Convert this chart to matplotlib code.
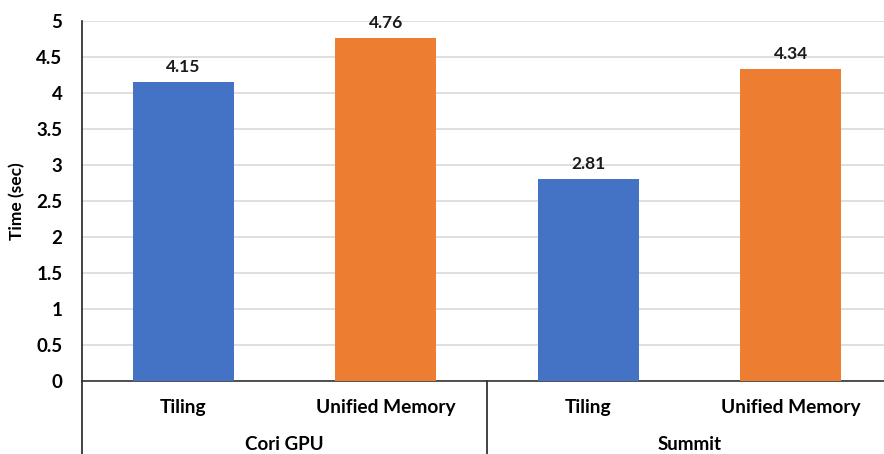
import matplotlib
matplotlib.use('Agg')
import numpy as np
import matplotlib.pyplot as plt

matplotlib.rcParams['font.family'] = ['Lato', 'DejaVu Sans']
matplotlib.rcParams['font.weight'] = 'bold'

# data
groups = ['Cori GPU', 'Summit']
methods = ['Tiling', 'Unified Memory']
times = [4.15, 4.76, 2.81, 4.34]
bar_colors = ['#4472C4', '#ED7D31', '#4472C4', '#ED7D31']
tick_labels = methods * len(groups)
yticks = [0, 0.5, 1, 1.5, 2, 2.5, 3, 3.5, 4, 4.5, 5]

fig = plt.figure(figsize=(8.84, 4.54), dpi=100)
W, H = 884.0, 454.0
ax = fig.add_axes([82 / W, (H - 381) / H, (892 - 82) / W, (381 - 21) / H])

x = np.arange(len(times))
ax.bar(x, times, width=0.5, color=bar_colors, zorder=3)
for xi, v in zip(x, times):
    ax.annotate('%.2f' % v, (xi, v), xytext=(0, 5), textcoords='offset points',
                ha='center', va='bottom', fontsize=12.5, fontweight='bold', color='#1a1a1a')

ax.set_xlim(-0.5, len(times) - 0.5)
ax.set_ylim(0, 5)
ax.set_yticks(yticks)
ax.set_yticklabels(['%g' % t for t in yticks])
ax.yaxis.grid(True, color='#d9d9d9', linewidth=1.2, zorder=0)
ax.set_axisbelow(True)
ax.tick_params(axis='y', length=0, pad=14, labelsize=13.5)
ax.tick_params(axis='x', length=0, pad=13, labelsize=13.8)
ax.set_xticks(x)
ax.set_xticklabels(tick_labels)
for t in ax.get_yticklabels() + ax.get_xticklabels():
    t.set_fontweight('bold')

for s in ['top', 'right']:
    ax.spines[s].set_visible(False)
ax.spines['left'].set_color('#222222')
ax.spines['bottom'].set_color('#333333')
ax.spines['left'].set_linewidth(1.2)
ax.spines['bottom'].set_linewidth(1.2)

ax.set_ylabel('Time (sec)', fontsize=12.5, fontweight='bold', labelpad=8)

# group axis lines and labels
n = len(methods)
trans = ax.get_xaxis_transform()
for gi in range(len(groups) + 1):
    xs = gi * n - 0.5
    ax.plot([xs, xs], [0, -73 / 360.0], transform=trans, color='#222222',
            linewidth=1.2, clip_on=False)
for gi, g in enumerate(groups):
    ax.text(gi * n + (n - 1) / 2.0, -64 / 360.0, g, transform=trans,
            ha='center', va='center', fontsize=13.5, fontweight='bold')

plt.savefig('out.png', dpi=100)
